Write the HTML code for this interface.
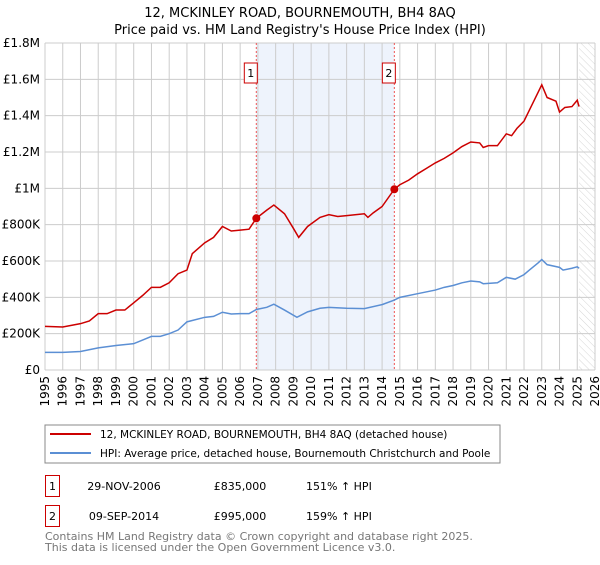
<!DOCTYPE html>
<html><head><meta charset="utf-8"><style>
body{margin:0;background:#fff;font-family:"Liberation Sans","DejaVu Sans",sans-serif}
svg text{font-family:"DejaVu Sans","Liberation Sans",sans-serif}
</style></head><body>
<svg id="c" width="600" height="560" xmlns="http://www.w3.org/2000/svg">
<text x="300" y="17" text-anchor="middle" font-size="13">12, MCKINLEY ROAD, BOURNEMOUTH, BH4 8AQ</text>
<text x="300" y="34" text-anchor="middle" font-size="13">Price paid vs. HM Land Registry's House Price Index (HPI)</text>
<g id="plot"></g>
<rect x="45" y="425" width="455" height="38" fill="#fff" stroke="#888"/>
<line x1="50" y1="434" x2="91" y2="434" stroke="#cc0000" stroke-width="2"/>
<text x="100" y="438" font-size="10.5">12, MCKINLEY ROAD, BOURNEMOUTH, BH4 8AQ (detached house)</text>
<line x1="50" y1="453" x2="91" y2="453" stroke="#5b8fd4" stroke-width="2"/>
<text x="100" y="457" font-size="10.5">HPI: Average price, detached house, Bournemouth Christchurch and Poole</text>
<rect x="45.5" y="475.5" width="14" height="21" fill="none" stroke="#cc0000"/>
<text x="52.5" y="490" font-size="11" text-anchor="middle">1</text>
<text x="124" y="490" font-size="11" text-anchor="middle">29-NOV-2006</text>
<text x="240" y="490" font-size="11" text-anchor="middle">£835,000</text>
<text x="306" y="490" font-size="11">151% ↑ HPI</text>
<rect x="45.5" y="505.5" width="14" height="21" fill="none" stroke="#cc0000"/>
<text x="52.5" y="520" font-size="11" text-anchor="middle">2</text>
<text x="124" y="520" font-size="11" text-anchor="middle">09-SEP-2014</text>
<text x="240" y="520" font-size="11" text-anchor="middle">£995,000</text>
<text x="306" y="520" font-size="11">159% ↑ HPI</text>
<text x="45" y="540" font-size="11" fill="#777">Contains HM Land Registry data © Crown copyright and database right 2025.</text>
<text x="45" y="551" font-size="11" fill="#777">This data is licensed under the Open Government Licence v3.0.</text>
</svg>
<script>
const redYears=[1995,1996,1997,1997.5,1998,1998.5,1999,1999.5,2000,2000.5,2001,2001.5,2002,2002.5,2003,2003.3,2004,2004.5,2005,2005.5,2006,2006.5,2006.91,2007.5,2007.9,2008.5,2009,2009.3,2009.8,2010.5,2011,2011.5,2012,2013,2013.2,2013.5,2014,2014.69,2015,2015.5,2016,2016.5,2017,2017.5,2018,2018.5,2019,2019.5,2019.7,2020,2020.5,2021,2021.3,2021.6,2022,2022.3,2022.8,2023,2023.3,2023.8,2024,2024.3,2024.7,2025,2025.1];
const redValues=[240,237,255,270,310,310,330,330,370,410,455,455,480,530,550,640,700,730,790,765,770,775,835,880,908,860,780,730,790,840,855,845,850,860,840,865,900,995,1020,1045,1080,1110,1140,1165,1195,1230,1255,1250,1225,1235,1235,1300,1290,1330,1370,1430,1530,1570,1500,1480,1420,1445,1450,1485,1450];
const hpiYears=[1995,1996,1997,1998,1999,2000,2000.5,2001,2001.5,2002,2002.5,2003,2004,2004.5,2005,2005.5,2006,2006.5,2006.91,2007.5,2007.9,2008.5,2009.2,2009.8,2010.5,2011,2012,2013,2014,2014.69,2015,2016,2017,2017.5,2018,2018.5,2019,2019.5,2019.7,2020.5,2021,2021.5,2022,2022.3,2022.8,2023,2023.3,2024,2024.2,2024.7,2025,2025.1];
const hpiValues=[97,97,102,122,135,145,165,185,185,200,220,265,290,295,318,308,310,310,333,345,362,330,290,320,340,345,340,338,360,385,400,420,440,455,465,480,490,485,475,480,510,500,525,550,590,608,580,565,550,560,568,560];
const saleYears=[2006.91,2014.69];
const saleValues=[835,995];
const saleLabels=["1","2"];
const yTicks=[0,200,400,600,800,1000,1200,1400,1600,1800];
const yTickLabels=["£0","£200K","£400K","£600K","£800K","£1M","£1.2M","£1.4M","£1.6M","£1.8M"];
const xTicks=[1995,1996,1997,1998,1999,2000,2001,2002,2003,2004,2005,2006,2007,2008,2009,2010,2011,2012,2013,2014,2015,2016,2017,2018,2019,2020,2021,2022,2023,2024,2025,2026];

const L=45,R=595,T=43,B=370;
const x=v=>L+(v-1995)/31*(R-L);
const y=v=>B-v/1800*(B-T);
const NS="http://www.w3.org/2000/svg";
const g=document.getElementById('plot');
function mk(t,a){const e=document.createElementNS(NS,t);for(const k in a)e.setAttribute(k,a[k]);g.appendChild(e);return e;}

const sh=mk('rect',{x:x(saleYears[0]),y:T,width:x(saleYears[1])-x(saleYears[0]),height:B-T,fill:'#eef3fc'});


const defs=mk('defs',{});
defs.innerHTML='<pattern id="hp" width="5" height="5" patternUnits="userSpaceOnUse" patternTransform="rotate(-45)"><line x1="0" y1="0" x2="0" y2="5" stroke="#ccc" stroke-width="0.8"/></pattern>';
const hat=mk('rect',{x:x(2025.1),y:T,width:R-x(2025.1),height:B-T,fill:'url(#hp)'});


xTicks.forEach(t=>{
  const l=mk('line',{x1:x(t),x2:x(t),y1:T,y2:B,stroke:'#ccc'});
  
  
  const tx=mk('text',{x:0,y:0,'font-size':12,'text-anchor':'end',transform:`translate(${x(t)+4},${B+6}) rotate(-90)`});
  tx.textContent=t;
  
  
});
yTicks.forEach((t,i)=>{
  const l=mk('line',{x1:L,x2:R,y1:y(t),y2:y(t),stroke:'#ccc'});
  
  
  const tx=mk('text',{x:L-5,y:y(t)+4,'font-size':12,'text-anchor':'end'});
  tx.textContent=yTickLabels[i];
  
  
});
saleYears.forEach((s,i)=>{
  const l=mk('line',{x1:x(s),x2:x(s),y1:T,y2:B,stroke:'#e55','stroke-dasharray':'2,2'});
  
  
  const r=mk('rect',{x:x(s)-12,y:63,width:13,height:20,fill:'#fff',stroke:'#cc0000'});
  
  
  const t=mk('text',{x:x(s)-5.5,y:77,'font-size':11,'text-anchor':'middle'});
  t.textContent=saleLabels[i];
});
const hp=mk('polyline',{points:hpiYears.map((v,i)=>x(v)+','+y(hpiValues[i])).join(' '),fill:'none',stroke:'#5b8fd4','stroke-width':1.5});


const rp=mk('polyline',{points:redYears.map((v,i)=>x(v)+','+y(redValues[i])).join(' '),fill:'none',stroke:'#cc0000','stroke-width':1.5});


saleYears.forEach((s,i)=>{
  const c=mk('circle',{cx:x(s),cy:y(saleValues[i]),r:4,fill:'#cc0000'});
  
  
});
</script>
</body></html>
